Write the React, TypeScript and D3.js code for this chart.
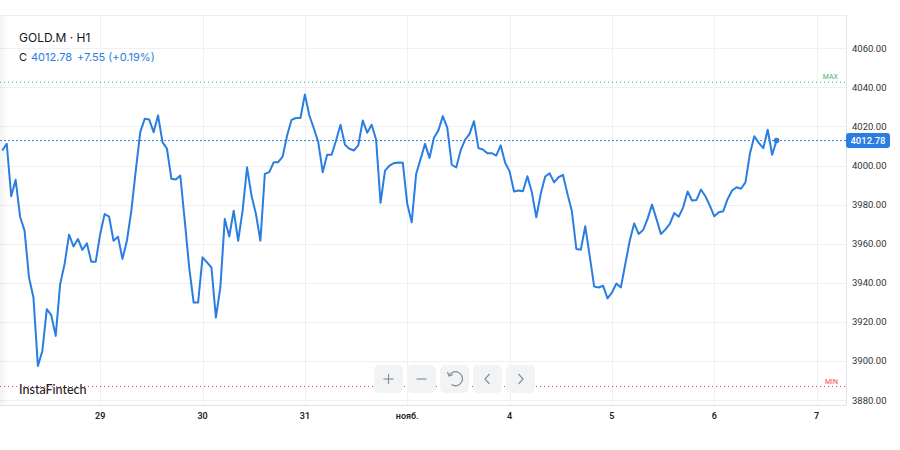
import React from "react";
import * as d3 from "d3";

const prices: number[] = [
  4007.7, 4011.1, 3984.3, 3992.7, 3973.8, 3966.7, 3942.7, 3932.5, 3897.4, 3905.1,
  3926.5, 3923.4, 3912.8, 3939.3, 3949.6, 3964.6, 3958.6, 3962.4, 3956.8, 3960.2,
  3950.8, 3950.8, 3965.0, 3975.2, 3973.8, 3961.5, 3963.6, 3952.2, 3961.5, 3976.9,
  3997.5, 4017.1, 4023.9, 4023.6, 4017.1, 4025.6, 4012.0, 4008.6, 3993.2, 3992.8,
  3994.9, 3971.8, 3947.8, 3929.9, 3929.9, 3953.0, 3950.4, 3947.8, 3922.2, 3937.6,
  3972.7, 3963.7, 3976.9, 3961.5, 3976.9, 3999.1, 3984.6, 3975.2, 3961.5, 3995.7,
  3996.6, 4001.7, 4001.7, 4004.6, 4015.4, 4023.4, 4024.3, 4024.3, 4036.4, 4025.6,
  4019.1, 4012.0, 3996.6, 4005.5, 4005.5, 4012.8, 4020.9, 4010.6, 4008.6, 4007.7,
  4010.3, 4023.1, 4016.8, 4020.9, 4013.3, 3980.9, 3997.4, 3999.9, 4001.2, 4001.5,
  4001.4, 3980.4, 3970.9, 3995.7, 4003.4, 4011.1, 4003.9, 4014.2, 4018.0, 4025.3,
  4019.3, 4000.4, 3999.0, 4007.7, 4013.2, 4016.2, 4022.7, 4008.9, 4008.2, 4006.3,
  4006.3, 4005.1, 4010.3, 4001.4, 3997.0, 3986.7, 3987.2, 3986.8, 3994.5, 3986.3,
  3973.5, 3985.5, 3994.4, 3996.0, 3991.4, 3994.0, 3995.2, 3985.5, 3976.6, 3957.3,
  3956.9, 3968.9, 3953.8, 3938.1, 3937.6, 3938.5, 3932.0, 3935.0, 3939.6, 3937.6,
  3949.6, 3961.5, 3970.4, 3965.0, 3967.0, 3972.7, 3980.0, 3972.7, 3965.0, 3967.2,
  3970.1, 3975.7, 3973.8, 3978.6, 3986.7, 3982.1, 3982.4, 3987.7, 3984.3, 3979.5,
  3974.0, 3976.1, 3976.6, 3982.9, 3987.2, 3988.9, 3988.1, 3991.4, 4006.0, 4015.0,
  4011.6, 4008.9, 4018.3, 4005.5, 4012.78,
];

const dayTickIndex: number[] = [22, 45, 68, 91, 114, 137, 160, 183];
const dayTickLabels: string[] = ["29", "30", "31", "нояб.", "4", "5", "6", "7"];
const priceTicks: number[] = [3880, 3900, 3920, 3940, 3960, 3980, 4000, 4020, 4040, 4060];

const lastPrice = 4012.78;
const changeText = "+7.55 (+0.19%)";
const symbolText = "GOLD.M · H1";
const maxLevel = 4042.6;
const minLevel = 3886.9;

const PLOT_TOP = 15;
const PLOT_BOTTOM = 405;
const AXIS_X = 846;
const BLUE = "#2a7de1";
const FONT = "Roboto, 'Noto Sans', sans-serif";

export default function App() {
  const x = d3.scaleLinear().domain([0, 183]).range([2.3, 816.65]);
  const y = d3.scaleLinear().domain([3880, 4060]).range([400, 48.3]);
  const line = d3
    .line<number>()
    .x((_, i) => x(i))
    .y((d) => y(d))
    .curve(d3.curveLinear);

  const lastIdx = prices.length - 1;
  const buttons = [0, 1, 2, 3, 4];

  return (
    <svg
      width={900}
      height={450}
      style={{ position: "absolute", left: 0, top: 0, background: "#fff" }}
      fontFamily={FONT}
    >
      <defs>
        <linearGradient id="leftShade" x1="0" x2="1" y1="0" y2="0">
          <stop offset="0" stopColor="#000" stopOpacity={0.05} />
          <stop offset="1" stopColor="#000" stopOpacity={0} />
        </linearGradient>
      </defs>
      <rect x={0} y={0} width={900} height={450} fill="#fff" />
      {/* grid */}
      <g stroke="#eef0f3" strokeWidth={1}>
        {priceTicks.map((t) => (
          <line key={"h" + t} x1={0} x2={AXIS_X} y1={Math.round(y(t)) + 0.5} y2={Math.round(y(t)) + 0.5} />
        ))}
        {dayTickIndex.map((t) => (
          <line key={"v" + t} x1={Math.round(x(t)) + 0.5} x2={Math.round(x(t)) + 0.5} y1={PLOT_TOP} y2={PLOT_BOTTOM} />
        ))}
      </g>
      <rect x={0} y={PLOT_TOP} width={8} height={PLOT_BOTTOM - PLOT_TOP} fill="url(#leftShade)" />
      {/* borders */}
      <line x1={0} x2={AXIS_X} y1={PLOT_TOP + 0.5} y2={PLOT_TOP + 0.5} stroke="#eceef1" />
      <line x1={0} x2={AXIS_X} y1={PLOT_BOTTOM + 0.5} y2={PLOT_BOTTOM + 0.5} stroke="#dfe2e6" />
      <line x1={AXIS_X + 0.5} x2={AXIS_X + 0.5} y1={PLOT_TOP} y2={PLOT_BOTTOM} stroke="#dfe2e6" />

      {/* max / min levels */}
      <line x1={0} x2={AXIS_X} y1={y(maxLevel)} y2={y(maxLevel)} stroke="#3bb26b" strokeWidth={1} strokeDasharray="1 3" />
      <text x={838} y={y(maxLevel) - 3} fontSize={7} fill="#3bb26b" textAnchor="end">MAX</text>
      <line x1={0} x2={AXIS_X} y1={y(minLevel)} y2={y(minLevel)} stroke="#f0484f" strokeWidth={1} strokeDasharray="1 3" />
      <text x={838} y={y(minLevel) - 3} fontSize={7} fill="#f0484f" textAnchor="end">MIN</text>

      {/* last price line */}
      <line x1={0} x2={AXIS_X} y1={y(lastPrice)} y2={y(lastPrice)} stroke={BLUE} strokeWidth={1} strokeDasharray="2 2" />

      {/* price line */}
      <path d={line(prices) || ""} fill="none" stroke={BLUE} strokeWidth={2} strokeLinejoin="round" />
      <circle cx={x(lastIdx)} cy={y(prices[lastIdx])} r={2.8} fill={BLUE} />

      {/* y axis labels */}
      {priceTicks.map((t) => (
        <text key={"yl" + t} x={852} y={y(t) + 3.5} fontSize={9.5} fill="#333">
          {t.toFixed(2)}
        </text>
      ))}
      <rect x={AXIS_X} y={y(lastPrice) - 7.5} width={44} height={15} rx={3} fill={BLUE} />
      <text x={868} y={y(lastPrice) + 3.5} fontSize={9.5} fill="#fff" textAnchor="middle" fontWeight={500}>
        {lastPrice.toFixed(2)}
      </text>

      {/* x axis labels */}
      {dayTickIndex.map((t, i) => (
        <text key={"xl" + t} x={x(t)} y={419} fontSize={9} fill="#222" textAnchor="middle" fontWeight={600}>
          {dayTickLabels[i]}
        </text>
      ))}

      {/* legend */}
      <text x={19} y={42} fontSize={12} fill="#131722" fontFamily="Inter, Roboto, sans-serif">{symbolText}</text>
      <text x={19} y={60.5} fontSize={11} fill="#131722" fontFamily="Inter, Roboto, sans-serif">C</text>
      <text x={31} y={60.5} fontSize={11} fill={BLUE} fontFamily="Inter, Roboto, sans-serif">{lastPrice.toFixed(2)}</text>
      <text x={77} y={60.5} fontSize={11} fill={BLUE} fontFamily="Inter, Roboto, sans-serif">{changeText}</text>

      {/* watermark */}
      <text x={19} y={394} fontSize={12.5} fill="#222" fontFamily="Lato, 'Open Sans', sans-serif" fontWeight={500}>InstaFintech</text>

      {/* navigation buttons */}
      {buttons.map((b) => {
        const bx = 374 + b * 33;
        const cx = bx + 14.5;
        const cy = 379;
        return (
          <g key={"btn" + b}>
            <rect x={bx} y={365} width={29} height={28} rx={5} fill="#f2f3f5" />
            {b === 0 && (
              <g stroke="#8a8f98" strokeWidth={1.2}>
                <line x1={cx - 5} x2={cx + 5} y1={cy} y2={cy} />
                <line x1={cx} x2={cx} y1={cy - 5} y2={cy + 5} />
              </g>
            )}
            {b === 1 && <line x1={cx - 5} x2={cx + 5} y1={cy} y2={cy} stroke="#8a8f98" strokeWidth={1.2} />}
            {b === 2 && (
              <g fill="none" stroke="#8a8f98" strokeWidth={1.3}>
                <path d={`M ${cx - 5.5} ${cy - 3} A 7 7 0 1 1 ${cx - 3} ${cy + 5.5}`} />
                <path d={`M ${cx - 7} ${cy - 7} L ${cx - 5.5} ${cy - 3} L ${cx - 1.5} ${cy - 4.5}`} />
              </g>
            )}
            {b === 3 && (
              <polyline points={`${cx + 2},${cy - 5} ${cx - 2.5},${cy} ${cx + 2},${cy + 5}`} fill="none" stroke="#8a8f98" strokeWidth={1.2} />
            )}
            {b === 4 && (
              <polyline points={`${cx - 2},${cy - 5} ${cx + 2.5},${cy} ${cx - 2},${cy + 5}`} fill="none" stroke="#8a8f98" strokeWidth={1.2} />
            )}
          </g>
        );
      })}
    </svg>
  );
}
